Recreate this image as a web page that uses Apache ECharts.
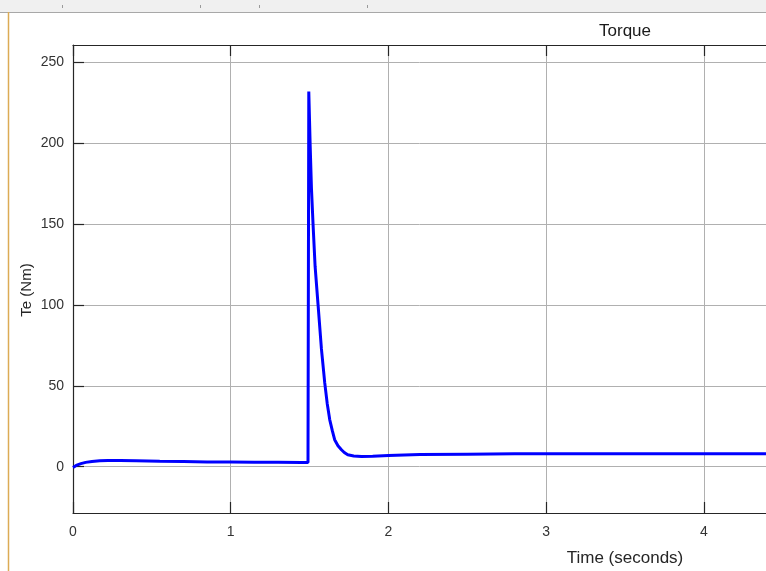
<!DOCTYPE html>
<html>
<head>
<meta charset="utf-8">
<script src="https://cdn.jsdelivr.net/npm/echarts@6/dist/echarts.min.js"></script>
<style>html,body{margin:0;padding:0;background:#fff;}#c{width:766px;height:571px;}</style>
</head>
<body>
<div id="c"></div>
<script>
// Time (s)
const timeValues = [0, 0.02, 0.05, 0.08, 0.12, 0.17, 0.22, 0.3, 0.4, 0.55, 0.7, 0.85, 1.0, 1.15, 1.3, 1.45, 1.49,
  1.495, 1.504, 1.512, 1.522, 1.535, 1.554, 1.575, 1.596, 1.612, 1.628, 1.645, 1.659, 1.68, 1.702, 1.72, 1.742,
  1.78, 1.829, 1.9, 2.0, 2.2, 2.5, 2.8, 3.0, 3.3, 3.6, 4.0, 4.4];
// Te (Nm)
const torqueValues = [-0.5, 0.8, 1.9, 2.7, 3.3, 3.7, 3.9, 3.9, 3.7, 3.4, 3.2, 3.0, 2.9, 2.8, 2.75, 2.7, 2.7,
  232, 198, 172, 150, 124, 100, 73, 52, 39, 29, 22, 16.7, 13, 10.5, 8.8, 7.4,
  6.7, 6.4, 6.5, 7.0, 7.5, 7.8, 8.0, 8.0, 8.1, 8.1, 8.0, 8.1];
const yTicks = [0, 50, 100, 150, 200, 250];
const xTicks = [0, 1, 2, 3, 4];
const chartTitle = 'Torque';
const xName = 'Time (seconds)';
const yName = 'Te (Nm)';

const seriesData = timeValues.map((t, i) => [t, torqueValues[i]]);
const FONT = 'Liberation Sans, Arial, Helvetica, sans-serif';
const chart = echarts.init(document.getElementById('c'), null, {renderer: 'canvas'});
chart.setOption({
  animation: false,
  backgroundColor: '#ffffff',
  graphic: [
    {type: 'rect', shape: {x: 0, y: 0, width: 766, height: 12}, style: {fill: '#f0f0f0'}, silent: true},
    {type: 'line', shape: {x1: 0, y1: 12.5, x2: 766, y2: 12.5}, style: {stroke: '#a8a8a8', lineWidth: 1}, silent: true},
    {type: 'line', shape: {x1: 62.5, y1: 5, x2: 62.5, y2: 8}, style: {stroke: '#9a9a9a', lineWidth: 1}, silent: true},
    {type: 'line', shape: {x1: 200.5, y1: 5, x2: 200.5, y2: 8}, style: {stroke: '#9a9a9a', lineWidth: 1}, silent: true},
    {type: 'line', shape: {x1: 259.5, y1: 5, x2: 259.5, y2: 8}, style: {stroke: '#9a9a9a', lineWidth: 1}, silent: true},
    {type: 'line', shape: {x1: 367.5, y1: 5, x2: 367.5, y2: 8}, style: {stroke: '#9a9a9a', lineWidth: 1}, silent: true},
    {type: 'line', shape: {x1: 8.5, y1: 12, x2: 8.5, y2: 571}, style: {stroke: '#dcab55', lineWidth: 1.5}, silent: true},
    {type: 'text', x: 625, y: 31, silent: true,
     style: {text: chartTitle, align: 'center', verticalAlign: 'middle', textAlign: 'center', textVerticalAlign: 'middle',
             font: '17px ' + FONT, fill: '#1a1a1a'}},
    {type: 'text', x: 625, y: 558, silent: true,
     style: {text: xName, align: 'center', verticalAlign: 'middle', textAlign: 'center', textVerticalAlign: 'middle',
             font: '17px ' + FONT, fill: '#262626'}},
    {type: 'text', x: 27, y: 290, rotation: Math.PI / 2, silent: true,
     style: {text: yName, align: 'center', verticalAlign: 'middle', textAlign: 'center', textVerticalAlign: 'middle',
             font: '15px ' + FONT, fill: '#262626'}}
  ],
  grid: {left: 73, top: 45, right: 0, bottom: 58, containLabel: false},
  xAxis: [
    {type: 'value', position: 'bottom', min: 0, max: 4.394, interval: 1,
     axisLine: {show: true, onZero: false, lineStyle: {color: '#262626', width: 1.2}},
     axisTick: {show: true, inside: true, length: 11, customValues: xTicks, lineStyle: {color: '#262626', width: 1.2}},
     axisLabel: {show: true, margin: 12, customValues: xTicks, color: '#333333', fontFamily: FONT, fontSize: 14},
     splitLine: {show: true, lineStyle: {color: '#b0b0b0', width: 1}}},
    {type: 'value', position: 'top', min: 0, max: 4.394, interval: 1,
     axisLine: {show: true, onZero: false, lineStyle: {color: '#262626', width: 1.2}},
     axisTick: {show: true, inside: true, length: 11, customValues: xTicks, lineStyle: {color: '#262626', width: 1.2}},
     axisLabel: {show: false},
     splitLine: {show: false}}
  ],
  yAxis: [
    {type: 'value', position: 'left', min: -28.6, max: 260.8,
     axisLine: {show: true, onZero: false, lineStyle: {color: '#262626', width: 1.2}},
     axisTick: {show: true, inside: true, length: 11, customValues: yTicks, lineStyle: {color: '#262626', width: 1.2}},
     axisLabel: {show: true, margin: 9, customValues: yTicks, color: '#333333', fontFamily: FONT, fontSize: 14},
     splitLine: {show: true, lineStyle: {color: '#b0b0b0', width: 1}}}
  ],
  series: [{
    type: 'line', xAxisIndex: 0, yAxisIndex: 0, data: seriesData,
    showSymbol: false, smooth: false, clip: true,
    lineStyle: {color: '#0000ff', width: 3}
  }]
});
</script>
</body>
</html>
